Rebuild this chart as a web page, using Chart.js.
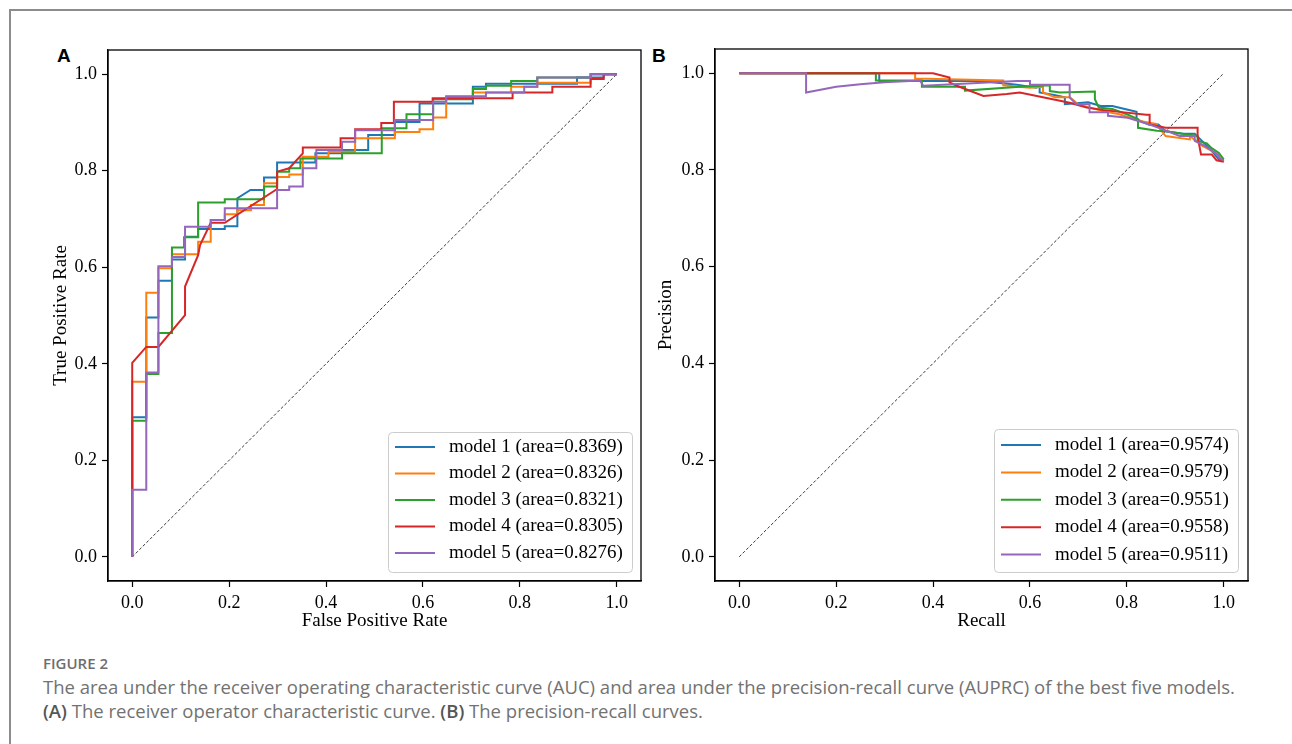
<!DOCTYPE html>
<html>
<head>
<meta charset="utf-8">
<title>Figure 2 - ROC and PR curves</title>
<script src="https://cdn.jsdelivr.net/npm/chart.js"></script>
<style>
  body { margin: 0; width: 1292px; height: 744px; background: #fff; position: relative; overflow: hidden; }
  .frame { position: absolute; left: 9px; top: 9px; width: 1300px; height: 760px; border-left: 2px solid #8c8c8c; border-top: 2px solid #8c8c8c; }
  .panel { position: absolute; top: 45px; font-family: 'Liberation Sans', Arial, sans-serif; font-weight: bold; font-size: 19px; }
  .plot { position: absolute; top: 40px; height: 600px; }
  .figno { position: absolute; left: 43px; top: 654px; font-family: 'Open Sans', sans-serif; font-size: 15px; line-height: 18px; color: #6e6e6e; font-weight: 600; }
  .cap { position: absolute; left: 43px; top: 675px; font-family: 'Open Sans', sans-serif; font-size: 18.5px; line-height: 24px; color: #727272; white-space: nowrap; }
  .cap b { color: #555; font-weight: 600; }
</style>
</head>
<body>
<div class="frame"></div>
<div class="panel" style="left:57px">A</div>
<div class="panel" style="left:652px">B</div>
<div class="plot" style="left:40px;width:612px"><canvas id="rocChart" width="612" height="600"></canvas></div>
<div class="plot" style="left:640px;width:620px"><canvas id="prChart" width="620" height="600"></canvas></div>
<div class="figno">FIGURE 2</div>
<div class="cap">The area under the receiver operating characteristic curve (AUC) and area under the precision-recall curve (AUPRC) of the best five models.<br><b>(A)</b> The receiver operator characteristic curve. <b>(B)</b> The precision-recall curves.</div>
<script>
// ---- data ----
const modelNames = ['model 1', 'model 2', 'model 3', 'model 4', 'model 5'];
const rocAreas = ['0.8369', '0.8326', '0.8321', '0.8305', '0.8276'];
const prAreas = ['0.9574', '0.9579', '0.9551', '0.9558', '0.9511'];
const colors = ['#1f77b4', '#ff7f0e', '#2ca02c', '#d62728', '#9467bd'];
const tickVals = [0, 0.2, 0.4, 0.6, 0.8, 1.0];

// ROC (false positive rate, true positive rate)
const rocFpr1 = [0, 0, 0.029, 0.029, 0.054, 0.054, 0.082, 0.082, 0.109, 0.109, 0.136, 0.136, 0.191, 0.191, 0.217, 0.217, 0.244, 0.272, 0.272, 0.299, 0.299, 0.378, 0.378, 0.433, 0.433, 0.487, 0.487, 0.542, 0.542, 0.593, 0.593, 0.703, 0.703, 0.73, 0.73, 0.918, 0.918, 0.973, 0.973, 1];
const rocTpr1 = [0, 0.289, 0.289, 0.496, 0.496, 0.572, 0.572, 0.616, 0.616, 0.663, 0.663, 0.679, 0.679, 0.685, 0.685, 0.743, 0.76, 0.76, 0.786, 0.786, 0.817, 0.817, 0.836, 0.836, 0.843, 0.843, 0.874, 0.874, 0.901, 0.901, 0.939, 0.939, 0.974, 0.974, 0.98, 0.98, 0.993, 0.993, 1, 1];
const rocFpr2 = [0, 0, 0.029, 0.029, 0.054, 0.054, 0.082, 0.082, 0.136, 0.136, 0.162, 0.162, 0.191, 0.191, 0.217, 0.217, 0.245, 0.245, 0.272, 0.272, 0.299, 0.299, 0.324, 0.324, 0.352, 0.352, 0.405, 0.405, 0.46, 0.46, 0.542, 0.542, 0.593, 0.593, 0.621, 0.621, 0.648, 0.648, 0.703, 0.703, 0.782, 0.782, 0.836, 0.836, 0.946, 0.946, 1];
const rocTpr2 = [0, 0.363, 0.363, 0.547, 0.547, 0.598, 0.598, 0.627, 0.627, 0.653, 0.653, 0.698, 0.698, 0.71, 0.71, 0.718, 0.718, 0.729, 0.729, 0.774, 0.774, 0.787, 0.787, 0.792, 0.792, 0.829, 0.829, 0.839, 0.839, 0.867, 0.867, 0.88, 0.88, 0.886, 0.886, 0.91, 0.91, 0.953, 0.953, 0.962, 0.962, 0.974, 0.974, 0.982, 0.982, 1, 1];
const rocFpr3 = [0, 0, 0.029, 0.029, 0.054, 0.054, 0.082, 0.082, 0.107, 0.107, 0.136, 0.136, 0.191, 0.191, 0.272, 0.272, 0.299, 0.299, 0.324, 0.324, 0.347, 0.347, 0.433, 0.433, 0.515, 0.515, 0.566, 0.566, 0.621, 0.621, 0.703, 0.703, 0.73, 0.73, 0.782, 0.782, 0.836, 0.836, 0.946, 0.946, 1];
const rocTpr3 = [0, 0.282, 0.282, 0.379, 0.379, 0.464, 0.464, 0.641, 0.641, 0.662, 0.662, 0.734, 0.734, 0.741, 0.741, 0.767, 0.767, 0.798, 0.798, 0.805, 0.805, 0.825, 0.825, 0.836, 0.836, 0.888, 0.888, 0.917, 0.917, 0.948, 0.948, 0.969, 0.969, 0.976, 0.976, 0.986, 0.986, 0.993, 0.993, 1, 1];
const rocFpr4 = [0, 0, 0.029, 0.054, 0.109, 0.109, 0.136, 0.14, 0.162, 0.191, 0.299, 0.299, 0.324, 0.352, 0.352, 0.43, 0.43, 0.46, 0.46, 0.514, 0.514, 0.54, 0.54, 0.62, 0.62, 0.785, 0.785, 0.867, 0.867, 0.946, 0.946, 0.973, 0.973, 1];
const rocTpr4 = [0, 0.402, 0.435, 0.435, 0.501, 0.56, 0.625, 0.646, 0.692, 0.692, 0.762, 0.798, 0.805, 0.836, 0.848, 0.848, 0.867, 0.867, 0.886, 0.886, 0.899, 0.899, 0.943, 0.943, 0.95, 0.95, 0.962, 0.962, 0.974, 0.974, 0.99, 0.99, 1, 1];
const rocFpr5 = [0, 0, 0.029, 0.029, 0.054, 0.054, 0.082, 0.082, 0.109, 0.109, 0.162, 0.162, 0.191, 0.191, 0.299, 0.299, 0.324, 0.324, 0.352, 0.352, 0.38, 0.38, 0.433, 0.433, 0.46, 0.46, 0.542, 0.542, 0.621, 0.621, 0.648, 0.648, 0.73, 0.73, 0.809, 0.809, 0.836, 0.836, 0.946, 0.946, 1];
const rocTpr5 = [0, 0.139, 0.139, 0.382, 0.382, 0.602, 0.602, 0.621, 0.621, 0.684, 0.684, 0.698, 0.698, 0.722, 0.722, 0.76, 0.76, 0.767, 0.767, 0.805, 0.805, 0.843, 0.843, 0.86, 0.86, 0.884, 0.884, 0.905, 0.905, 0.943, 0.943, 0.954, 0.954, 0.962, 0.962, 0.974, 0.974, 0.993, 0.993, 1, 1];

// precision-recall (recall, precision)
const prRec1 = [0, 0.289, 0.289, 0.497, 0.573, 0.613, 0.62, 0.62, 0.65, 0.672, 0.672, 0.72, 0.746, 0.77, 0.8, 0.82, 0.82, 0.845, 0.865, 0.88, 0.916, 0.94, 0.955, 0.97, 0.99, 1];
const prPre1 = [1, 1, 0.984, 0.984, 0.976, 0.97, 0.974, 0.96, 0.955, 0.95, 0.936, 0.94, 0.932, 0.932, 0.925, 0.92, 0.905, 0.894, 0.894, 0.88, 0.875, 0.875, 0.86, 0.845, 0.822, 0.82];
const prRec2 = [0, 0.363, 0.363, 0.545, 0.545, 0.6, 0.627, 0.627, 0.652, 0.682, 0.7, 0.757, 0.785, 0.8, 0.827, 0.86, 0.88, 0.93, 0.93, 0.955, 0.983, 1];
const prPre2 = [1, 1, 0.989, 0.985, 0.975, 0.97, 0.972, 0.96, 0.95, 0.95, 0.935, 0.92, 0.915, 0.91, 0.901, 0.895, 0.87, 0.863, 0.87, 0.85, 0.835, 0.818];
const prRec3 = [0, 0.282, 0.282, 0.377, 0.377, 0.466, 0.466, 0.579, 0.641, 0.641, 0.662, 0.734, 0.734, 0.742, 0.77, 0.8, 0.823, 0.823, 0.862, 0.881, 0.946, 0.946, 0.965, 0.975, 0.99, 1];
const prPre3 = [1, 1, 0.985, 0.985, 0.972, 0.972, 0.964, 0.972, 0.975, 0.963, 0.96, 0.962, 0.946, 0.929, 0.926, 0.915, 0.905, 0.887, 0.881, 0.88, 0.87, 0.86, 0.855, 0.845, 0.835, 0.822];
const prRec4 = [0, 0.4, 0.434, 0.434, 0.449, 0.504, 0.552, 0.579, 0.682, 0.717, 0.751, 0.785, 0.84, 0.847, 0.847, 0.88, 0.946, 0.946, 0.953, 0.975, 0.985, 1];
const prPre4 = [1, 1, 0.991, 0.981, 0.974, 0.953, 0.957, 0.96, 0.939, 0.929, 0.924, 0.92, 0.914, 0.914, 0.894, 0.887, 0.887, 0.87, 0.832, 0.832, 0.82, 0.817];
const prRec5 = [0, 0.138, 0.138, 0.2, 0.25, 0.3, 0.373, 0.38, 0.573, 0.6, 0.6, 0.682, 0.682, 0.696, 0.723, 0.723, 0.761, 0.761, 0.802, 0.847, 0.866, 0.909, 0.94, 0.94, 0.96, 0.99, 0.99, 1];
const prPre5 = [1, 1, 0.96, 0.972, 0.977, 0.981, 0.985, 0.974, 0.984, 0.984, 0.976, 0.976, 0.95, 0.936, 0.936, 0.919, 0.919, 0.912, 0.908, 0.894, 0.887, 0.87, 0.87, 0.86, 0.85, 0.83, 0.825, 0.82];

const diagX = [0, 1];
const diagY = [0, 1];

// ---- helpers ----
function pts(xs, ys) {
  return xs.map((x, i) => ({ x: x, y: ys[i] }));
}

const serif = "'Liberation Serif', 'Times New Roman', serif";

// frame around the plot area + legend box like matplotlib
const framePlugin = {
  id: 'frameBox',
  afterDatasetsDraw(chart, args, opts) {
    const a = chart.chartArea;
    const ctx = chart.ctx;
    ctx.save();
    ctx.strokeStyle = '#000';
    ctx.lineWidth = 1.3;
    ctx.strokeRect(a.left, a.top, a.right - a.left, a.bottom - a.top);

    // legend
    const w = opts.width, h = opts.height;
    const x0 = a.right - opts.right - w;
    const y0 = a.bottom - opts.bottom - h;
    ctx.beginPath();
    ctx.roundRect(x0 + 0.5, y0 + 0.5, w, h, 4);
    ctx.fillStyle = 'rgba(255,255,255,0.85)';
    ctx.fill();
    ctx.strokeStyle = '#cccccc';
    ctx.lineWidth = 1;
    ctx.stroke();

    ctx.font = opts.fontSize + 'px ' + serif;
    ctx.textBaseline = 'middle';
    ctx.fillStyle = '#000';
    chart.data.datasets.forEach((ds, i) => {
      if (!ds.legend) return;
      const y = y0 + opts.first + i * opts.rowH;
      ctx.beginPath();
      ctx.strokeStyle = ds.borderColor;
      ctx.lineWidth = 2;
      ctx.moveTo(x0 + 7, y);
      ctx.lineTo(x0 + 47, y);
      ctx.stroke();
      ctx.fillText(ds.label, x0 + 61, y);
    });
    ctx.restore();
  }
};

function axis(title, fixed, titlePad) {
  return {
    type: 'linear',
    min: -0.05,
    max: 1.05,
    afterBuildTicks: (s) => { s.ticks = tickVals.map(v => ({ value: v })); },
    afterFit: (s) => {
      if (s.isHorizontal()) s.height = fixed; else s.width = fixed;
      s.paddingTop = 0; s.paddingBottom = 0; s.paddingLeft = 0; s.paddingRight = 0;
    },
    ticks: {
      color: '#000',
      padding: 5,
      font: { family: serif, size: 18 },
      callback: (v) => v.toFixed(1)
    },
    grid: { display: true, drawOnChartArea: false, drawTicks: true, tickLength: 6, tickColor: '#000', tickWidth: 1.2 },
    border: { display: true, color: '#000', width: 1.3 },
    title: { display: true, text: title, color: '#000', font: { family: serif, size: 19 }, padding: { top: titlePad, bottom: titlePad } }
  };
}

function makeChart(id, xsList, ysList, areas, xTitle, yTitle, yAxisW, pad, legendOpts, yTitlePad) {
  const datasets = xsList.map((xs, i) => ({
    label: modelNames[i] + ' (area=' + areas[i] + ')',
    legend: true,
    data: pts(xs, ysList[i]),
    borderColor: colors[i],
    borderWidth: 2,
    showLine: true,
    pointRadius: 0,
    tension: 0,
    order: 5 - i
  }));
  datasets.push({
    label: 'chance',
    legend: false,
    data: pts(diagX, diagY),
    borderColor: '#222',
    borderWidth: 0.9,
    borderDash: [3, 2],
    showLine: true,
    pointRadius: 0,
    order: 10
  });
  return new Chart(document.getElementById(id), {
    type: 'scatter',
    data: { datasets: datasets },
    options: {
      responsive: false,
      animation: false,
      layout: { padding: pad },
      plugins: {
        legend: { display: false },
        tooltip: { enabled: false },
        frameBox: legendOpts
      },
      scales: {
        x: axis(xTitle, 59, 8),
        y: axis(yTitle, yAxisW, yTitlePad)
      }
    },
    plugins: [framePlugin]
  });
}

makeChart('rocChart',
  [rocFpr1, rocFpr2, rocFpr3, rocFpr4, rocFpr5],
  [rocTpr1, rocTpr2, rocTpr3, rocTpr4, rocTpr5],
  rocAreas, 'False Positive Rate', 'True Positive Rate', 68,
  { top: 10, right: 11, left: 0, bottom: 0 },
  { width: 244, height: 140, right: 9, bottom: 9, first: 15, rowH: 26.5, fontSize: 19 }, 10);

makeChart('prChart',
  [prRec1, prRec2, prRec3, prRec4, prRec5],
  [prPre1, prPre2, prPre3, prPre4, prPre5],
  prAreas, 'Recall', 'Precision', 75,
  { top: 9, right: 12, left: 0, bottom: 0 },
  { width: 244, height: 143, right: 10, bottom: 9, first: 16, rowH: 27.4, fontSize: 19 }, 15);
</script>
</body>
</html>
